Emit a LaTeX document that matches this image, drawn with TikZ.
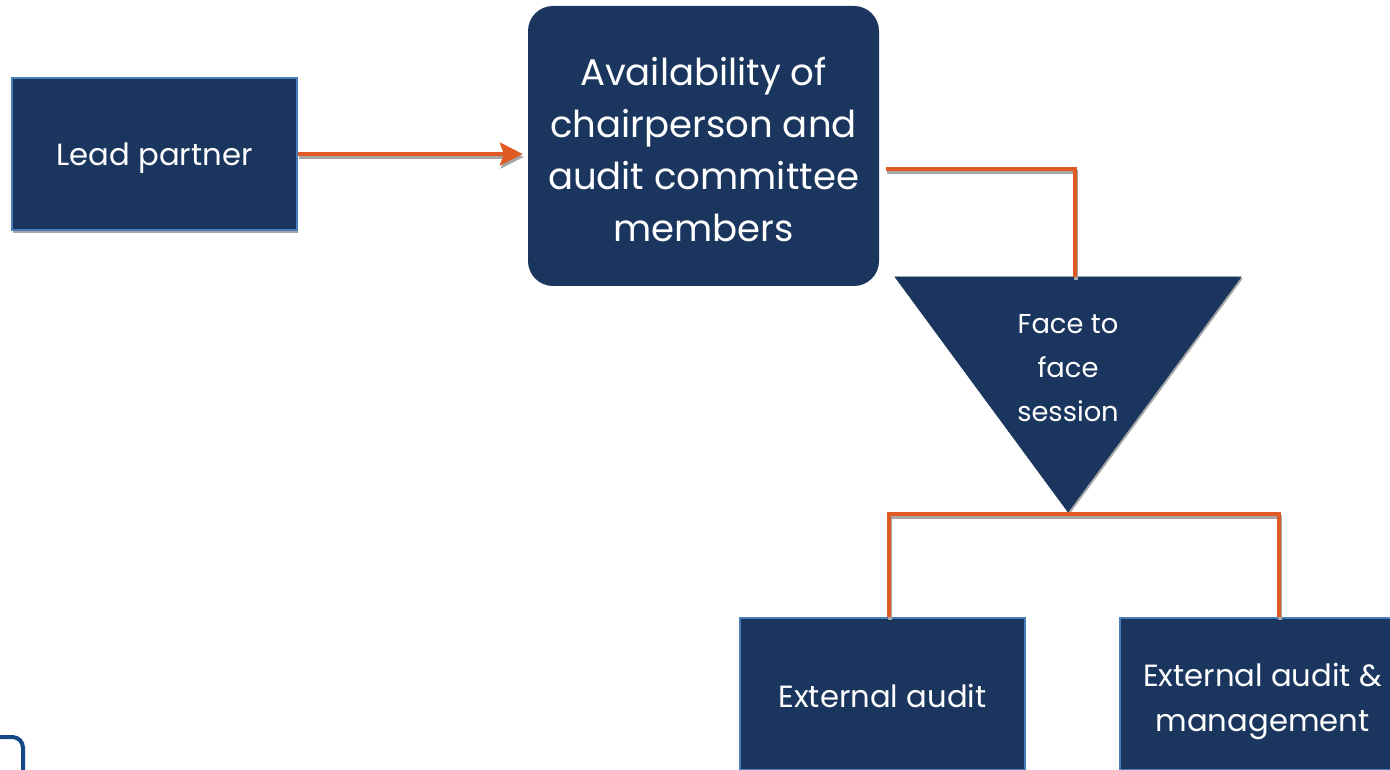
\documentclass[tikz,border=0pt]{standalone}
\usepackage{fontspec}
\setmainfont{Poppins}
\usetikzlibrary{arrows.meta,shadows}
\definecolor{navy}{RGB}{27,54,94}
\definecolor{edgeblue}{RGB}{74,126,187}
\definecolor{linkorange}{RGB}{224,91,35}
\definecolor{frameblue}{RGB}{22,72,135}
\tikzset{
  box/.style={draw=edgeblue, line width=1.5pt, fill=navy, inner sep=0pt, minimum width=213.75pt, minimum height=114pt},
  txt/.style={text=white, align=center, inner sep=0.75pt},
  link/.style={draw=linkorange, line width=3.4pt, preaction={draw=gray!70, line width=3.4pt, transform canvas={shift={(1,-3)}}}},
}

\begin{document}
\begin{tikzpicture}[x=0.75pt,y=0.75pt,yscale=-1,xscale=1]
\clip (0,0) rectangle (1390,770);

%Shape: Rectangle [lead]
\node (lead) [box, drop shadow={shadow xshift=0.5pt, shadow yshift=-2pt, fill=gray!70, opacity=1}] at (154.5,154) {};
%Shape: Rounded Rectangle [avail]
\node (avail) [box, draw=navy, rounded corners=18pt, minimum width=261.75pt, minimum height=208.5pt] at (703.5,146) {};
%Shape: Triangle [face]
\coordinate (triL) at (895,277);
\coordinate (triR) at (1241,277);
\coordinate (tritip) at (1068,512);
\draw [fill=navy, draw=navy, drop shadow={shadow xshift=1.5pt, shadow yshift=-1pt, fill=gray!70, opacity=1}] (triL) -- (triR) -- (tritip) -- cycle;
%Shape: Rectangle [ext1]
\node (ext1) [box] at (882.5,694) {};
%Shape: Rectangle [ext2]
\node (ext2) [box] at (1262.5,694) {};
%Shape: Rounded Rectangle [corner frame]
\draw [frameblue, line width=3pt, rounded corners=8pt] (-60,737) rectangle (23,860);

%Straight Lines [lead to avail]
\draw [link, -{Stealth[length=17pt, width=17pt, inset=3pt]}] (lead.east) -- ([xshift=-4pt]avail.west |- lead.east);
%Straight Lines [avail to face]
\coordinate (bend) at (1075,169);
\draw [link] ([xshift=5pt]bend -| avail.east) -- (bend) -- (bend |- triL);
%Straight Lines [face to ext]
\coordinate (brL) at (889,514);
\coordinate (brR) at (1279,514);
\draw [link] (brL |- ext1.north) -- (brL) -- (brR) -- (brR |- ext2.north);

% Text Node
\node (leadtxt) [txt, font=\fontsize{23}{28}\selectfont] at (154.5,158) {Lead partner};
% Text Node
\node (availtxt) [txt, font=\fontsize{27.8}{39}\selectfont] at (703.5,150) {Availability of\\chairperson and\\audit committee\\members};
% Text Node
\node (facetxt) [txt, font=\fontsize{20.5}{33}\selectfont] at (1068,368) {Face to\\face\\session};
% Text Node
\node (ext1txt) [txt, font=\fontsize{23}{34}\selectfont] at (882.5,696) {External audit};
% Text Node
\node (ext2txt) [txt, font=\fontsize{23}{34}\selectfont] at (1262.5,701.5) {External audit \&\\management};

\end{tikzpicture}
\end{document}
